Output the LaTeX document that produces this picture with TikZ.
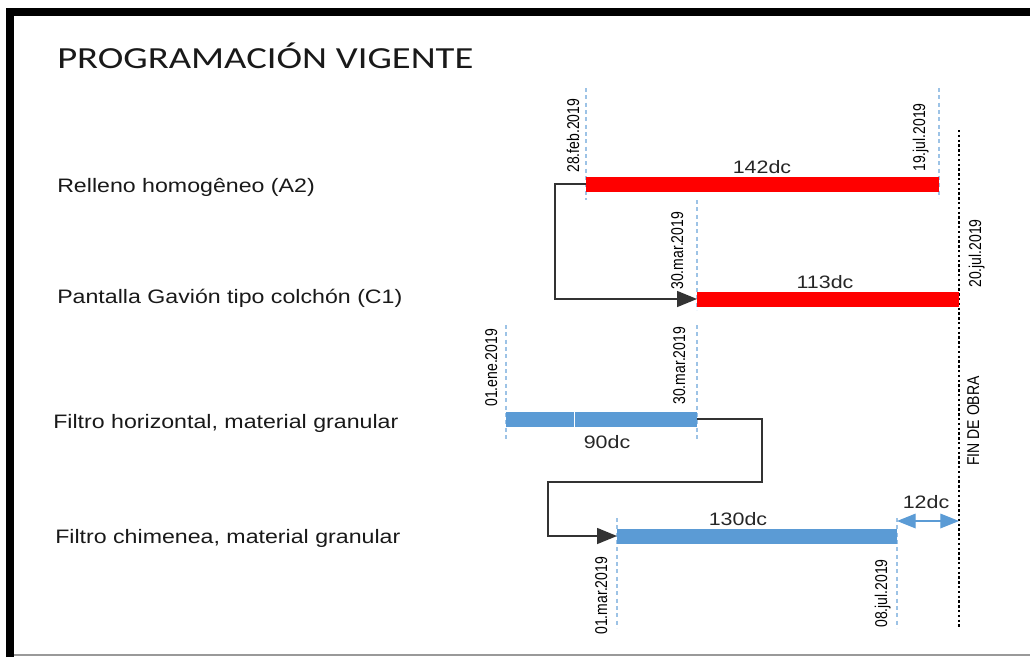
\documentclass[tikz,border=0pt]{standalone}
\usepackage{fontspec}
\setmainfont{Liberation Sans}
\newfontfamily\titlefont[FakeStretch=1.26]{Carlito}
\newfontfamily\rowfont[FakeStretch=1.19]{Liberation Sans}
\newfontfamily\datefont[FakeStretch=0.82]{Liberation Sans}
\usepackage{xcolor}
\usetikzlibrary{arrows.meta, calc}
\definecolor{barred}{HTML}{FF0000}
\definecolor{barblue}{HTML}{5B9BD5}
\definecolor{guideblue}{HTML}{9DC3E6}
\tikzset{
  rowlabel/.style={anchor=base west, inner sep=0pt, text=black!90, font=\rowfont\fontsize{14.6pt}{16pt}\selectfont},
  durlabel/.style={anchor=base, inner sep=0pt, text=black!85, font=\rowfont\fontsize{13.5pt}{15pt}\selectfont},
  datelabel/.style={anchor=base west, rotate=90, inner sep=0pt, text=black, font=\datefont\fontsize{12.8pt}{14pt}\selectfont},
  redbar/.style={barred, line width=11.25pt},
  bluebar/.style={barblue, line width=11.25pt},
  guide/.style={guideblue, line width=0.8pt, dash pattern=on 3pt off 2.5pt},
  finline/.style={black, line width=1.6pt, dash pattern=on 1.8pt off 1.8pt},
  link/.style={black!80, line width=1.1pt, -{Triangle[length=15pt, width=12pt]}},
  gap/.style={barblue, line width=0.9pt, {Triangle[length=14pt, width=11pt]}-{Triangle[length=14pt, width=11pt]}},
}

\begin{document}
\begin{tikzpicture}[x=0.75pt, y=-0.75pt]
    \useasboundingbox (0,0) rectangle (1030,657);
    % Marco
    \draw[black, line width=6pt, line join=miter] (10,657) -- (10,12) -- (1030,12);
    \draw[black!40, line width=1.2pt] (14,655) -- (1030,655);
    % Titulo
    \node[anchor=base west, inner sep=0pt, text=black!90, font=\titlefont\fontsize{23pt}{26pt}\selectfont] (titulo) at (57,68) {PROGRAMACIÓN VIGENTE};
    % Actividades
    \node[rowlabel] (act1) at (57,192) {Relleno homogêneo (A2)};
    \node[rowlabel] (act2) at (57,303) {Pantalla Gavión tipo colchón (C1)};
    \node[rowlabel] (act3) at (53,428) {Filtro horizontal, material granular};
    \node[rowlabel] (act4) at (55,543) {Filtro chimenea, material granular};
    % Inicio y fin de cada barra
    \coordinate (a2i) at (586,184);
    \coordinate (a2f) at (939,184);
    \coordinate (c1i) at (697,299);
    \coordinate (c1f) at (959,299);
    \coordinate (fhi) at (506,419);
    \coordinate (fhf) at (697,419);
    \coordinate (fci) at (617,536);
    \coordinate (fcf) at (897,536);
    \coordinate (finA) at (959,130);
    \coordinate (finB) at (959,628);
    % Lineas de fecha
    \draw[guide] (586,88) -- (586,200);
    \draw[guide] (939,88) -- (939,198);
    \draw[guide] (697,200) -- (697,310);
    \draw[guide] (697,325) -- (697,442);
    \draw[guide] (506,325) -- (506,442);
    \foreach \x in {617,897} {
        \draw[guide] (\x,518) -- (\x,628);
    }
    \draw[finline] (finA) -- (finB);
    % Dependencias
    \draw[link] (a2i) -- ++(-31,0) |- (c1i);
    \draw[link] (fhf) -- ++(65,0) |- ++(-214,63) |- (fci);
    % Barras
    \draw[redbar] (a2i) -- (a2f);
    \draw[redbar] (c1i) -- (c1f);
    \draw[bluebar] (fhi) -- (fhf);
    \draw[white, line width=0.6pt] ($(fhi)!0.356!(fhf)+(0,-7.5)$) -- ++(0,15);
    \draw[bluebar] (fci) -- (fcf);
    % Holgura
    \coordinate (h1) at ($(fcf)+(0,-15)$);
    \coordinate (h2) at (h1 -| finA);
    \draw[gap] (h1) -- (h2);
    % Duraciones
    \node[durlabel] (dur1) at (762,173) {142dc};
    \node[durlabel] (dur2) at (825,288) {113dc};
    \node[durlabel] (dur3) at (607,448) {90dc};
    \node[durlabel] (dur4) at (738,525) {130dc};
    \node[durlabel] (dur5) at (926,508) {12dc};
    % Fechas
    \node[datelabel] (f1) at (579,173) {28.feb.2019};
    \node[datelabel] (f2) at (925,172) {19.jul.2019};
    \node[datelabel] (f3) at (683,290) {30.mar.2019};
    \node[datelabel] (f4) at (981,288) {20.jul.2019};
    \node[datelabel] (f5) at (497,407) {01.ene.2019};
    \node[datelabel] (f6) at (685,405) {30.mar.2019};
    \node[datelabel] (f7) at (607,635) {01.mar.2019};
    \node[datelabel] (f8) at (887,628) {08.jul.2019};
    \node[datelabel] (fin) at (979,466) {FIN DE OBRA};
\end{tikzpicture}
\end{document}
